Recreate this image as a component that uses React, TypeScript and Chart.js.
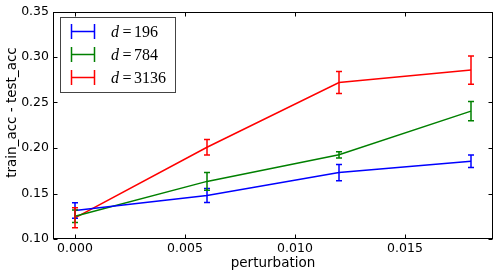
import React, { useEffect, useRef } from "react";
import { Chart, registerables } from "chart.js";

Chart.register(...registerables);

const perturbation = [0, 0.006, 0.012, 0.018];
const seriesLabels = ["196", "784", "3136"];
const seriesColors = ["#0000ff", "#008000", "#ff0000"];
const valuesD196 = [0.1313, 0.1477, 0.173, 0.1855];
const errorsD196 = [0.0085, 0.0077, 0.009, 0.0068];
const valuesD784 = [0.125, 0.1633, 0.1925, 0.2405];
const errorsD784 = [0.0068, 0.0098, 0.0035, 0.0105];
const valuesD3136 = [0.1233, 0.2008, 0.272, 0.2856];
const errorsD3136 = [0.011, 0.0085, 0.012, 0.0155];
const xTicks = [0, 0.005, 0.01, 0.015];
const yTicks = [0.1, 0.15, 0.2, 0.25, 0.3, 0.35];
const xTitle = "perturbation";
const yTitle = "train_acc - test_acc";

const allValues = [valuesD196, valuesD784, valuesD3136];
const allErrors = [errorsD196, errorsD784, errorsD3136];

const errorBarPlugin = {
  id: "errorBars",
  afterDatasetsDraw(chart: any) {
    const ctx = chart.ctx;
    const xs = chart.scales.x;
    const ys = chart.scales.y;
    ctx.save();
    chart.data.datasets.forEach((ds: any, i: number) => {
      const errs = allErrors[i];
      ctx.strokeStyle = ds.borderColor;
      ctx.lineWidth = 1.5;
      ds.data.forEach((pt: any, j: number) => {
        const px = xs.getPixelForValue(pt.x);
        const top = ys.getPixelForValue(pt.y + errs[j]);
        const bot = ys.getPixelForValue(pt.y - errs[j]);
        ctx.beginPath();
        ctx.moveTo(px, top);
        ctx.lineTo(px, bot);
        ctx.moveTo(px - 3, top);
        ctx.lineTo(px + 3, top);
        ctx.moveTo(px - 3, bot);
        ctx.lineTo(px + 3, bot);
        ctx.stroke();
      });
    });
    ctx.restore();
  },
};

const framePlugin = {
  id: "frameTicks",
  afterDraw(chart: any) {
    const ctx = chart.ctx;
    const a = chart.chartArea;
    const xs = chart.scales.x;
    const ys = chart.scales.y;
    ctx.save();
    ctx.strokeStyle = "#000";
    ctx.lineWidth = 1;
    const L = Math.round(a.left) + 0.5;
    const R = Math.round(a.right) - 0.5;
    const T = Math.round(a.top) + 0.5;
    const B = Math.round(a.bottom) - 0.5;
    ctx.strokeRect(L, T, R - L, B - T);
    ctx.beginPath();
    xTicks.forEach((v) => {
      const px = Math.round(xs.getPixelForValue(v)) + 0.5;
      ctx.moveTo(px, B);
      ctx.lineTo(px, B - 4);
      ctx.moveTo(px, T);
      ctx.lineTo(px, T + 4);
    });
    yTicks.forEach((v) => {
      const py = Math.round(ys.getPixelForValue(v)) + 0.5;
      ctx.moveTo(L, py);
      ctx.lineTo(L + 4, py);
      ctx.moveTo(R, py);
      ctx.lineTo(R - 4, py);
    });
    ctx.stroke();

    // y axis title
    ctx.save();
    ctx.translate(12, 112.5);
    ctx.rotate(-Math.PI / 2);
    ctx.fillStyle = "#000";
    ctx.font = "13.5px 'DejaVu Sans'";
    ctx.textAlign = "center";
    ctx.textBaseline = "middle";
    ctx.fillText(yTitle, 0, 0);
    ctx.restore();

    // legend
    const bx = 60.5, by = 17.5, bw = 115, bh = 75;
    ctx.fillStyle = "#fff";
    ctx.fillRect(bx, by, bw, bh);
    ctx.strokeStyle = "#444";
    ctx.strokeRect(bx, by, bw, bh);
    const rows = [31.5, 54.5, 77.5];
    seriesLabels.forEach((lab, i) => {
      const cy = rows[i];
      ctx.strokeStyle = seriesColors[i];
      ctx.lineWidth = 1.5;
      ctx.beginPath();
      ctx.moveTo(71.5, cy);
      ctx.lineTo(94.5, cy);
      ctx.moveTo(71.5, cy - 7.5);
      ctx.lineTo(71.5, cy + 7.5);
      ctx.moveTo(94.5, cy - 7.5);
      ctx.lineTo(94.5, cy + 7.5);
      ctx.stroke();
      ctx.fillStyle = "#000";
      ctx.textBaseline = "middle";
      ctx.textAlign = "left";
      ctx.font = "italic 16px 'Liberation Serif'";
      ctx.fillText("d", 111, cy + 1);
      ctx.font = "16px 'Liberation Serif'";
      ctx.fillText("=", 122.5, cy + 1);
      ctx.fillText(lab, 134, cy + 1);
    });
    ctx.restore();
  },
};

export default function App() {
  const ref = useRef<HTMLCanvasElement>(null);
  useEffect(() => {
    document.body.style.margin = "0";
    const datasets = allValues.map((vals, i) => ({
      label: "d=" + seriesLabels[i],
      data: perturbation.map((x, j) => ({ x, y: vals[j] })),
      borderColor: seriesColors[i],
      backgroundColor: seriesColors[i],
      borderWidth: 1.5,
      pointRadius: 0,
      showLine: true,
      fill: false,
      tension: 0,
    }));
    const tickFont = { family: "'DejaVu Sans'", size: 12.5 };
    const chart = new Chart(ref.current as HTMLCanvasElement, {
      type: "scatter",
      data: { datasets },
      plugins: [errorBarPlugin, framePlugin],
      options: {
        animation: false,
        responsive: false,
        layout: { padding: { left: 0, right: 6, top: 10, bottom: 0 } },
        plugins: { legend: { display: false }, tooltip: { enabled: false } },
        scales: {
          x: {
            type: "linear",
            min: -0.001,
            max: 0.019,
            grid: { display: false, drawTicks: false },
            border: { display: false },
            afterBuildTicks: (s: any) => {
              s.ticks = xTicks.map((v) => ({ value: v }));
            },
            afterFit: (s: any) => {
              s.height = 36;
            },
            ticks: {
              color: "#000",
              font: tickFont,
              padding: 2,
              maxRotation: 0,
              autoSkip: false,
              callback: (v: any) => Number(v).toFixed(3),
            },
            title: {
              display: true,
              text: xTitle,
              color: "#000",
              font: { family: "'DejaVu Sans'", size: 13.5 },
              padding: { top: 0, bottom: 3.5 },
            },
          },
          y: {
            type: "linear",
            min: 0.1,
            max: 0.35,
            grid: { display: false, drawTicks: false },
            border: { display: false },
            afterBuildTicks: (s: any) => {
              s.ticks = yTicks.map((v) => ({ value: v }));
            },
            afterFit: (s: any) => {
              s.width = 53;
            },
            ticks: {
              color: "#000",
              font: tickFont,
              padding: 4,
              autoSkip: false,
              callback: (v: any) => Number(v).toFixed(2),
            },
            title: { display: false },
          },
        },
      } as any,
    });
    return () => chart.destroy();
  }, []);
  return (
    <div style={{ position: "fixed", left: 0, top: 0, width: 499, height: 275, background: "#fff" }}>
      <canvas ref={ref} width={499} height={275} style={{ width: 499, height: 275 }} />
    </div>
  );
}
